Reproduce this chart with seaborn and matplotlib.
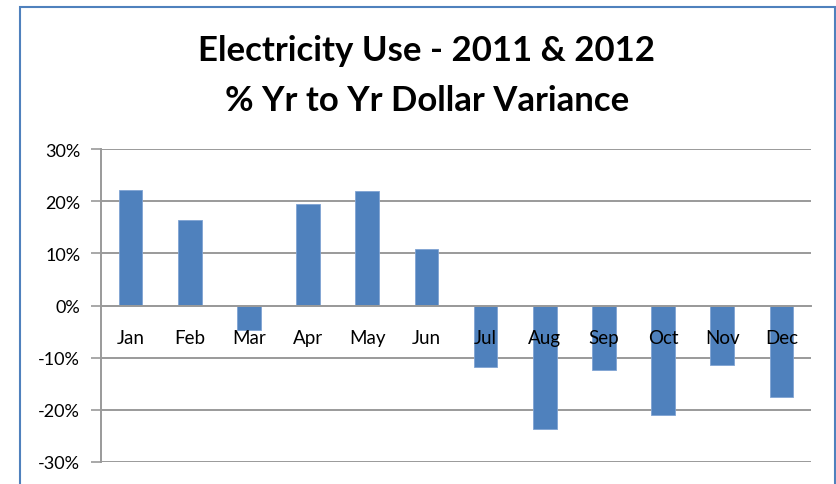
import numpy as np
import pandas as pd
import matplotlib
matplotlib.use("Agg")
import matplotlib.pyplot as plt
from matplotlib.ticker import PercentFormatter, FixedLocator
from matplotlib.patches import Rectangle
import seaborn as sns

months = ["Jan", "Feb", "Mar", "Apr", "May", "Jun",
          "Jul", "Aug", "Sep", "Oct", "Nov", "Dec"]
variance = [0.222, 0.165, -0.047, 0.194, 0.219, 0.108,
            -0.119, -0.238, -0.124, -0.210, -0.115, -0.175]
yticks = [-0.3, -0.2, -0.1, 0.0, 0.1, 0.2, 0.3]
title_line1 = "Electricity Use - 2011 & 2012"
title_line2 = "% Yr to Yr Dollar Variance"

sns.set_theme(style="white")
plt.rcParams["font.family"] = ["Lato", "DejaVu Sans"]
plt.rcParams["axes.unicode_minus"] = False

W, H = 837, 485
fig = plt.figure(figsize=(W / 100, H / 100), dpi=100)
fig.patch.set_facecolor("white")

ax = fig.add_axes([101 / W, 1 - 462.7 / H, (811 - 101) / W, (462.7 - 150.3) / H])
df = pd.DataFrame({"month": months, "variance": variance})
sns.barplot(data=df, x="month", y="variance", color="#4F81BD", saturation=1,
            width=0.4, ax=ax, edgecolor="#7FA3D3", linewidth=0.6)

ax.set_xlim(-0.5, len(months) - 0.5)
ax.set_ylim(-0.3, 0.3)
ax.yaxis.set_major_locator(FixedLocator(yticks))
ax.yaxis.set_major_formatter(PercentFormatter(1.0, decimals=0))
ax.set_xlabel("")
ax.set_ylabel("")

grid_c = "#9A9A9A"
ax.grid(axis="y", color=grid_c, linewidth=1.4)
ax.grid(axis="x", visible=False)
ax.set_axisbelow(True)
for s in ["top", "right"]:
    ax.spines[s].set_visible(False)
ax.spines["left"].set_color(grid_c)
ax.spines["left"].set_linewidth(1.4)
ax.spines["bottom"].set_position(("data", 0))
ax.spines["bottom"].set_color(grid_c)
ax.spines["bottom"].set_linewidth(1.4)
ax.spines["bottom"].set_zorder(3)

ax.set_xticks(np.arange(-0.5, len(months), 1.0), minor=True)
ax.tick_params(axis="x", which="major", length=0, pad=17, labelsize=13.5, labelcolor="black")
ax.tick_params(axis="x", which="minor", length=6, width=1.2, color=grid_c, direction="out")
ax.tick_params(axis="y", which="major", length=7, width=1.2, color=grid_c, direction="out",
               pad=8, labelsize=13, labelcolor="black", left=True)
# month labels sit on top of the bars
ax.xaxis.set_zorder(5)

# chart frame
fig.add_artist(Rectangle((19.5 / W, -0.05), (835 - 19.5) / W, 1.05 - 7.5 / H,
                         transform=fig.transFigure, fill=False,
                         edgecolor="#4F81BD", linewidth=1.5))

cx = 427 / W
fig.text(cx, 1 - 61 / H, title_line1, ha="center", va="baseline",
         fontsize=25, fontweight="bold", color="black")
fig.text(cx, 1 - 111 / H, title_line2, ha="center", va="baseline",
         fontsize=25, fontweight="bold", color="black")

fig.savefig("out.png", dpi=100, facecolor="white")
